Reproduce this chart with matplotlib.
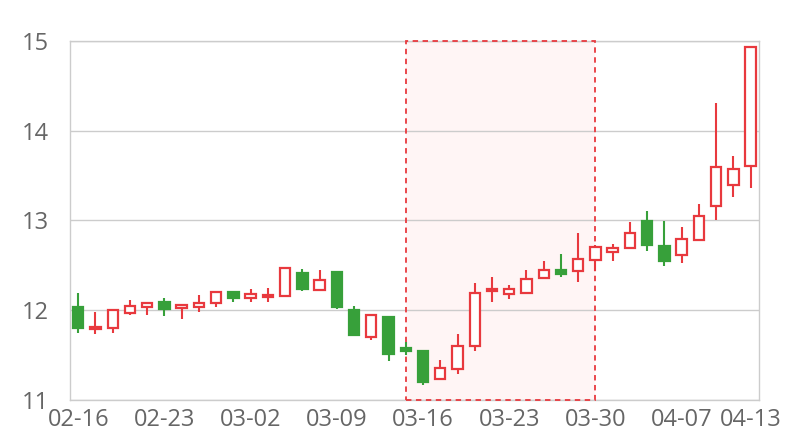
import matplotlib
matplotlib.use("Agg")
import matplotlib.pyplot as plt
from matplotlib.patches import Rectangle
import numpy as np

# trading days shown on the category axis
dates = ["02-16", "02-17", "02-18", "02-19", "02-20",
         "02-23", "02-24", "02-25", "02-26", "02-27",
         "03-02", "03-03", "03-04", "03-05", "03-06",
         "03-09", "03-10", "03-11", "03-12", "03-13",
         "03-16", "03-17", "03-18", "03-19", "03-20",
         "03-23", "03-24", "03-25", "03-26", "03-27",
         "03-30", "03-31", "04-01", "04-02", "04-03",
         "04-07", "04-08", "04-09", "04-10", "04-13"]

opens = [12.03, 11.79, 11.80, 11.97, 12.04, 12.09, 12.02, 12.03, 12.08, 12.20,
         12.14, 12.15, 12.16, 12.41, 12.22, 12.42, 12.00, 11.70, 11.92, 11.58,
         11.55, 11.23, 11.35, 11.60, 12.21, 12.18, 12.19, 12.36, 12.45, 12.44,
         12.56, 12.65, 12.69, 12.99, 12.71, 12.61, 12.78, 13.16, 13.39, 13.60]
closes = [11.80, 11.81, 12.00, 12.05, 12.08, 12.01, 12.06, 12.08, 12.20, 12.14,
          12.18, 12.17, 12.47, 12.24, 12.34, 12.03, 11.72, 11.95, 11.51, 11.55,
          11.20, 11.36, 11.60, 12.19, 12.23, 12.23, 12.35, 12.45, 12.40, 12.57,
          12.70, 12.69, 12.86, 12.72, 12.55, 12.79, 13.05, 13.59, 13.57, 14.93]
highs = [12.19, 11.98, 12.00, 12.11, 12.08, 12.13, 12.07, 12.17, 12.20, 12.20,
         12.23, 12.25, 12.48, 12.46, 12.45, 12.42, 12.05, 11.95, 11.92, 11.65,
         11.55, 11.44, 11.73, 12.30, 12.37, 12.28, 12.45, 12.55, 12.62, 12.86,
         12.72, 12.74, 12.98, 13.10, 12.99, 12.93, 13.18, 14.31, 13.72, 14.93]
lows = [11.74, 11.73, 11.75, 11.95, 11.95, 11.94, 11.90, 11.98, 12.03, 12.09,
        12.09, 12.09, 12.15, 12.21, 12.21, 12.01, 11.72, 11.67, 11.43, 11.50,
        11.17, 11.23, 11.29, 11.54, 12.09, 12.12, 12.19, 12.36, 12.37, 12.31,
        12.44, 12.55, 12.69, 12.66, 12.49, 12.53, 12.78, 13.00, 13.26, 13.36]

# highlighted span (start/end category) and value range
mark_start, mark_end = "03-13", "03-30"
mark_low, mark_high = 11, 15

yticks = [11, 12, 13, 14, 15]
xtick_labels = ["02-16", "02-23", "03-02", "03-09", "03-16",
                "03-23", "03-30", "04-07", "04-13"]

UP = "#e8393e"
DOWN = "#37a03a"
GRID = "#cccccc"
TXT = "#666666"

fig = plt.figure(figsize=(8, 4.4), dpi=100)
ax = fig.add_axes([0.087, 0.091, 0.862, 0.8165])

x = np.arange(len(dates))
o, c = np.array(opens), np.array(closes)
h, l = np.array(highs), np.array(lows)
up = c >= o
cols = np.where(up, UP, DOWN)

# highlighted area: fill under the grid, dashed border above the spines
i0, i1 = dates.index(mark_start), dates.index(mark_end)
ax.add_patch(Rectangle((i0, mark_low), i1 - i0, mark_high - mark_low,
                       facecolor="#fff5f5", edgecolor="none", zorder=0.5))
ax.add_patch(Rectangle((i0, mark_low), i1 - i0, mark_high - mark_low,
                       facecolor="none", edgecolor=UP, lw=1.3,
                       ls=(0, (3, 2.5)), zorder=2.7, clip_on=False))

# wicks
ax.vlines(x, l, h, colors=cols, lw=1.5, zorder=3)
# bodies
bottoms = np.minimum(o, c)
heights = np.maximum(np.abs(c - o), 0.005)
ax.bar(x, heights, bottom=bottoms, width=0.6,
       color=np.where(up, "white", DOWN), edgecolor=cols, lw=1.6, zorder=4)

ax.set_xlim(-0.5, len(dates) - 0.5)
ax.set_ylim(mark_low, mark_high)
ax.set_yticks(yticks)
ax.set_xticks([dates.index(d) for d in xtick_labels])
ax.set_xticklabels(xtick_labels)
ax.yaxis.grid(True, color=GRID, lw=1, zorder=0.8)
ax.set_axisbelow(True)
ax.tick_params(length=0, labelsize=17, colors=TXT)
ax.tick_params(axis="y", pad=15)
ax.tick_params(axis="x", pad=6)
for lab in ax.get_xticklabels() + ax.get_yticklabels():
    lab.set_fontfamily("Open Sans")
for s in ax.spines.values():
    s.set_color(GRID)
    s.set_linewidth(1)

fig.savefig("out.png", dpi=100)
